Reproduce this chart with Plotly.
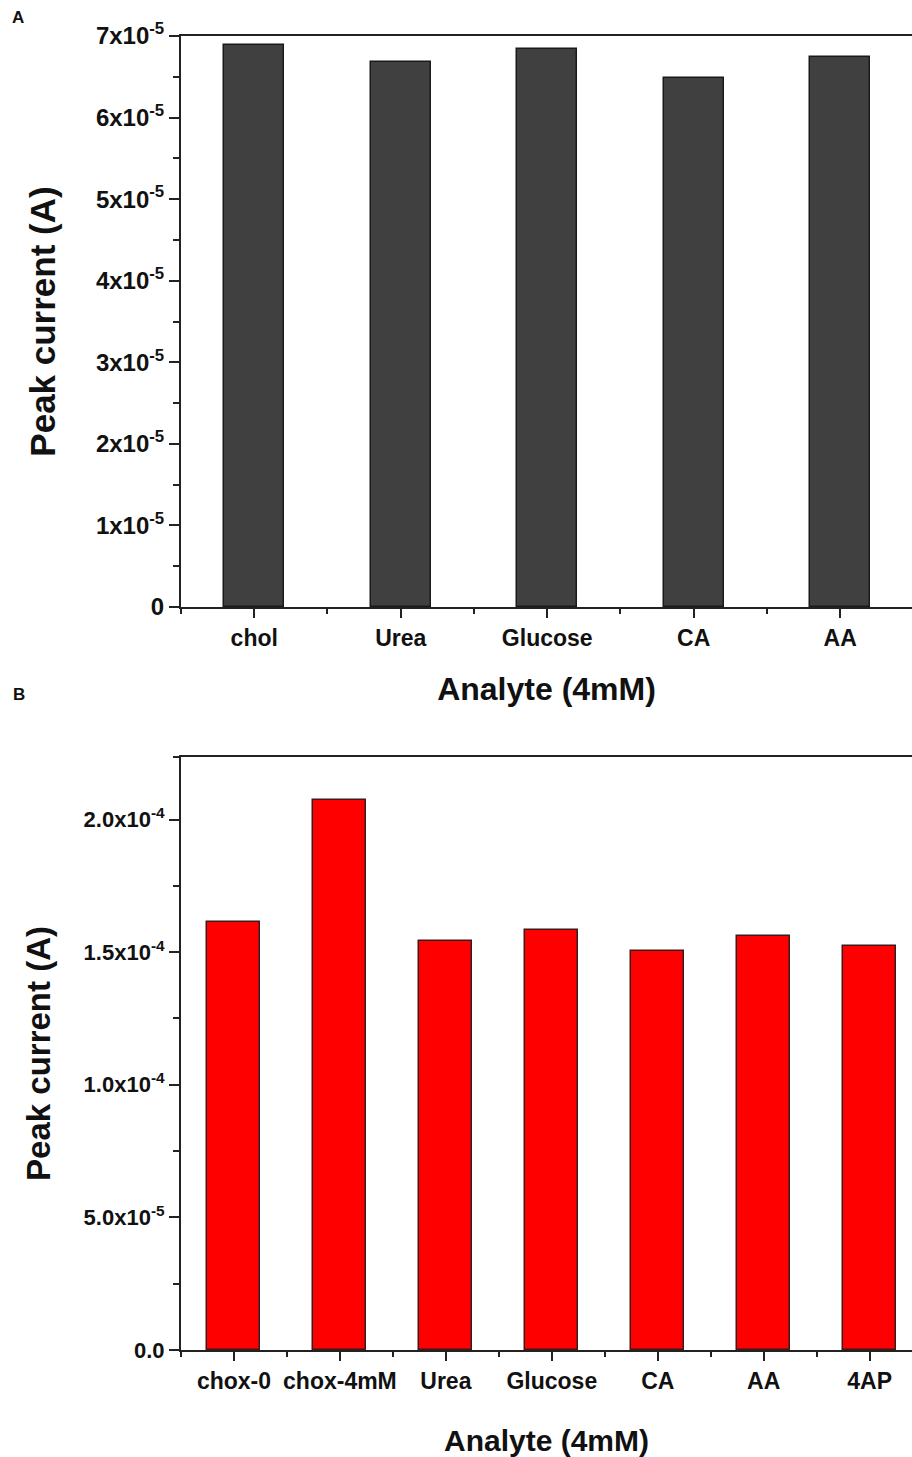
import plotly.graph_objects as go
from plotly.subplots import make_subplots

# Panel A data
cats_a = ["chol", "Urea", "Glucose", "CA", "AA"]
vals_a = [6.89e-5, 6.68e-5, 6.84e-5, 6.49e-5, 6.74e-5]
ytick_vals_a = [0, 1e-5, 2e-5, 3e-5, 4e-5, 5e-5, 6e-5, 7e-5]
ytick_text_a = ["0", "1x10<sup>-5</sup>", "2x10<sup>-5</sup>", "3x10<sup>-5</sup>",
                "4x10<sup>-5</sup>", "5x10<sup>-5</sup>", "6x10<sup>-5</sup>", "7x10<sup>-5</sup>"]

# Panel B data
cats_b = ["chox-0", "chox-4mM", "Urea", "Glucose", "CA", "AA", "4AP"]
vals_b = [1.614e-4, 2.074e-4, 1.542e-4, 1.584e-4, 1.505e-4, 1.561e-4, 1.523e-4]
ytick_vals_b = [0, 5e-5, 1e-4, 1.5e-4, 2e-4]
ytick_text_b = ["0.0", "5.0x10<sup>-5</sup>", "1.0x10<sup>-4</sup>",
                "1.5x10<sup>-4</sup>", "2.0x10<sup>-4</sup>"]

# body margin is removed by post_script, so the figure fills the window
W, H = 912, 1457
FONT = "Arial, Liberation Sans, sans-serif"

def px_x(x):
    return x / W

def px_y(y):
    return 1 - y / H

fig = make_subplots(rows=2, cols=1)

xa = list(range(len(cats_a)))
xb = list(range(len(cats_b)))

fig.add_trace(go.Bar(x=xa, y=vals_a, width=0.41,
                     marker=dict(color="#404040", line=dict(color="#1a1a1a", width=1.5)),
                     showlegend=False), row=1, col=1)
fig.add_trace(go.Bar(x=xb, y=vals_b, width=0.5,
                     marker=dict(color="#ff0000", line=dict(color="#3a1a1a", width=1.5)),
                     showlegend=False), row=2, col=1)

axis_common = dict(showline=True, linecolor="#222", linewidth=2, ticks="outside",
                   tickcolor="#222", tickwidth=2, showgrid=False, zeroline=False,
                   automargin=False)

fig.update_layout(
    width=W, height=H,
    margin=dict(l=0, r=0, t=0, b=0, autoexpand=False),
    paper_bgcolor="white", plot_bgcolor="white",
    bargap=0,
    font=dict(family=FONT, color="#111"),
    xaxis=dict(domain=[px_x(181), 1], range=[-0.5, 4.49],
               tickmode="array", tickvals=xa, ticktext=cats_a, ticklen=9,
               tickfont=dict(size=23, weight="bold"),
               minor=dict(tickmode="array", tickvals=[-0.5, 0.5, 1.5, 2.5, 3.5],
                          ticklen=5, tickwidth=2, tickcolor="#222", ticks="outside"),
               mirror=True,
               title=dict(text="Analyte (4mM)", font=dict(size=32, weight="bold"), standoff=28),
               **axis_common),
    yaxis=dict(domain=[px_y(607), px_y(36)], range=[0, 7e-5],
               tickmode="array", tickvals=ytick_vals_a, ticktext=ytick_text_a, ticklen=10,
               tickfont=dict(size=24, weight="bold"),
               minor=dict(tickmode="array",
                          tickvals=[0.5e-5, 1.5e-5, 2.5e-5, 3.5e-5, 4.5e-5, 5.5e-5, 6.5e-5],
                          ticklen=6, tickwidth=2, tickcolor="#222", ticks="outside"),
               title=dict(text="Peak current (A)", font=dict(size=35, weight="bold"), standoff=30),
               **axis_common),
    xaxis2=dict(domain=[px_x(181), 1], range=[-0.5, 6.4],
                tickmode="array", tickvals=xb, ticktext=cats_b, ticklen=9,
                tickfont=dict(size=23, weight="bold"),
                minor=dict(tickmode="array", tickvals=[-0.5, 0.5, 1.5, 2.5, 3.5, 4.5, 5.5],
                           ticklen=5, tickwidth=2, tickcolor="#222", ticks="outside"),
                mirror=True,
                title=dict(text="Analyte (4mM)", font=dict(size=30, weight="bold"), standoff=38),
                **axis_common),
    yaxis2=dict(domain=[px_y(1350), px_y(757)], range=[0, 2.236e-4],
                tickmode="array", tickvals=ytick_vals_b, ticktext=ytick_text_b, ticklen=10,
                tickfont=dict(size=22, weight="bold"),
                minor=dict(tickmode="array",
                           tickvals=[2.5e-5, 7.5e-5, 1.25e-4, 1.75e-4, 2.236e-4],
                           ticklen=6, tickwidth=2, tickcolor="#222", ticks="outside"),
                title=dict(text="Peak current (A)", font=dict(size=33, weight="bold"), standoff=23),
                **axis_common),
    annotations=[
        dict(text="A", x=px_x(10), y=px_y(18), xref="paper", yref="paper",
             xanchor="left", yanchor="middle", showarrow=False,
             font=dict(size=17, weight="bold", family=FONT)),
        dict(text="B", x=px_x(11), y=px_y(695), xref="paper", yref="paper",
             xanchor="left", yanchor="middle", showarrow=False,
             font=dict(size=17, weight="bold", family=FONT)),
    ],
)

fig.write_html("out.html",
               config={"displayModeBar": False},
               post_script="document.body.style.margin='0';document.body.style.overflow='hidden';")
